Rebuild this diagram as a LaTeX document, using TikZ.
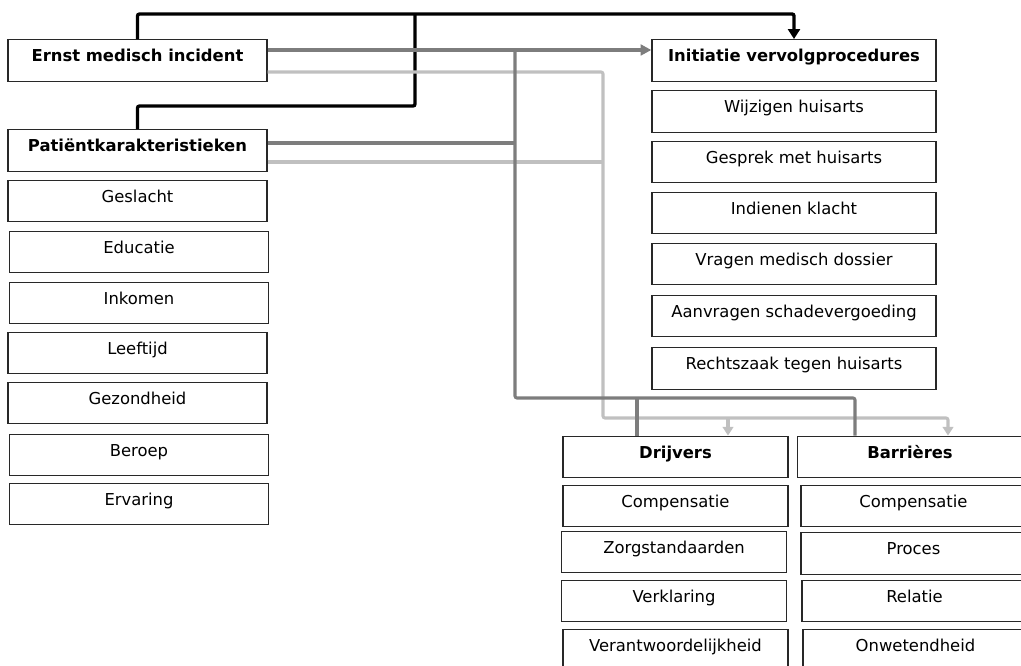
\documentclass[tikz,border=0pt]{standalone}
\usepackage{fontspec}
\setmainfont{DejaVu Sans}
\usetikzlibrary{arrows.meta,calc}
\definecolor{dgray}{RGB}{125,125,125}
\definecolor{lgray}{RGB}{192,192,192}
\definecolor{boxline}{RGB}{40,40,40}
\begin{document}
\begin{tikzpicture}[x=0.75pt,y=-0.75pt,
  box/.style={draw=boxline,line width=1pt,fill=white,inner xsep=0pt,inner ysep=0pt,
    text height=16.5pt,text depth=14.7pt,font=\fontsize{12.3}{14}\selectfont},
  hbox/.style={box,font=\fontsize{12.3}{14}\selectfont\bfseries},
  lw/.style={minimum width=194.25pt},
  rw/.style={minimum width=213pt},
  dw/.style={minimum width=168.75pt},
  blk/.style={draw=black,line width=2.5pt,rounded corners=1.5pt},
  dg/.style={draw=dgray,line width=2.3pt,rounded corners=1.5pt},
  lg/.style={draw=lgray,line width=2.3pt,rounded corners=1.5pt},
  bt/.style={-{Triangle[width=9pt,length=7.5pt]}},
  dt/.style={-{Triangle[width=8pt,length=8pt]}},
  lt/.style={-{Triangle[width=8pt,length=6.5pt]}}]
\useasboundingbox (0,0) rectangle (1021,666);
\clip (0,0) rectangle (1021,666);
% left column
\node[hbox,lw] (ernst) at (137.5,60.5) {Ernst medisch incident};
\node[hbox,lw] (pat) at (137.5,150.5) {Patiëntkarakteristieken};
\node[box,lw] (l1) at (137.5,201) {Geslacht};
\node[box,lw] (l2) at (139,252) {Educatie};
\node[box,lw] (l3) at (139,303) {Inkomen};
\node[box,lw] (l4) at (137.5,353) {Leeftijd};
\node[box,lw] (l5) at (137.5,403) {Gezondheid};
\node[box,lw] (l6) at (139,455) {Beroep};
\node[box,lw] (l7) at (139,504) {Ervaring};
% right column
\node[hbox,rw] (init) at (794,60.5) {Initiatie vervolgprocedures};
\node[box,rw] (r1) at (794,111.5) {Wijzigen huisarts};
\node[box,rw] (r2) at (794,162) {Gesprek met huisarts};
\node[box,rw] (r3) at (794,213) {Indienen klacht};
\node[box,rw] (r4) at (794,264) {Vragen medisch dossier};
\node[box,rw] (r5) at (794,316) {Aanvragen schadevergoeding};
\node[box,rw] (r6) at (794,368.5) {Rechtszaak tegen huisarts};
% drivers
\node[hbox,dw] (drij) at (675.5,457) {Drijvers};
\node[box,dw] (d1) at (675.5,506) {Compensatie};
\node[box,dw] (d2) at (674,552) {Zorgstandaarden};
\node[box,dw] (d3) at (674,601) {Verklaring};
\node[box,dw] (d4) at (675.5,650) {Verantwoordelijkheid};
% barriers
\node[hbox,dw] (barr) at (910,457) {Barrières};
\node[box,dw] (b1) at (913.5,506) {Compensatie};
\node[box,dw] (b2) at (913.5,553.5) {Proces};
\node[box,dw] (b3) at (914.5,601) {Relatie};
\node[box,dw] (b4) at (915.5,650) {Onwetendheid};
% coordinates
\coordinate (bj) at (415,14);
\coordinate (bjl) at (415,106);
\coordinate (dv) at (515,50);
\coordinate (dgc) at (855,398);
\coordinate (dgd) at (637,398);
\coordinate (lbot) at (603,418);
\coordinate (lbarr) at (948,418);
\coordinate (ldr) at (728,418);
\coordinate (le) at ($(ernst.east)+(0,11.5)$);
\coordinate (lp) at ($(pat.east)+(0,11.5)$);
\coordinate (de) at ($(ernst.east)+(0,-10.5)$);
\coordinate (pd) at ($(pat.east)+(0,-7.5)$);
% black connectors
\draw[blk,bt] (ernst.north) |- (bj) -| (init.north);
\draw[blk] (pat.north) |- (bjl) -- (bj);
% light gray connectors
\draw[lg] (lp) -- (lp -| lbot);
\draw[lg,lt] (le) -| (lbot) -| (barr.north west -| lbarr);
\draw[lg,lt] (ldr) -- (drij.north west -| ldr);
% dark gray connectors
\draw[dg,dt] (de) -- (de -| init.west);
\draw[dg] (pd) -- (pd -| dv);
\draw[dg] (dv) |- (dgc) -- (barr.north west -| dgc);
\draw[dg] (dgd) -- (drij.north west -| dgd);
\end{tikzpicture}
\end{document}
